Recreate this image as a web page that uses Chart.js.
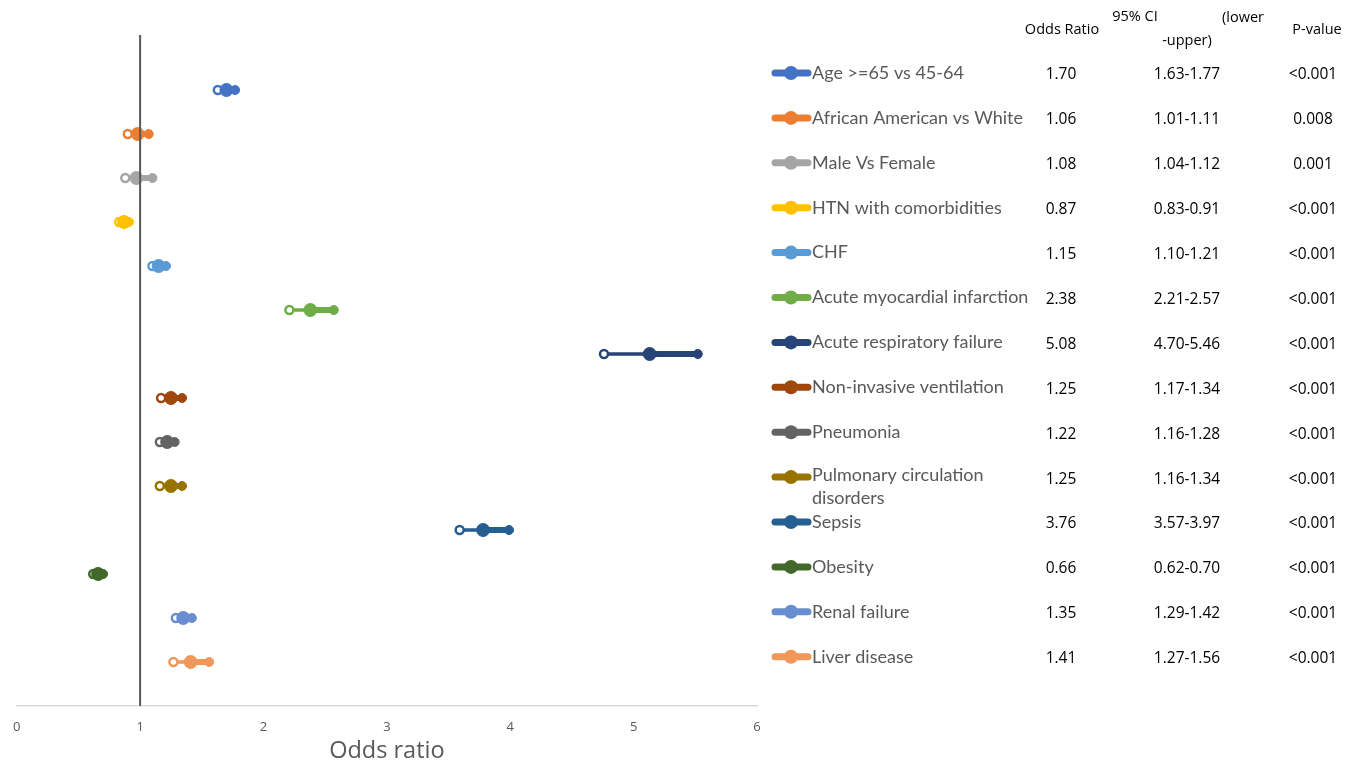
<!DOCTYPE html>
<html>
<head>
<meta charset="utf-8">
<script src="https://cdn.jsdelivr.net/npm/chart.js@4.4.1/dist/chart.umd.min.js"></script>
<style>
  html, body { margin: 0; padding: 0; background: #fff; }
  #wrap { width: 1354px; height: 765px; }
</style>
</head>
<body>
<div id="wrap"><canvas id="forest" width="1354" height="765"></canvas></div>
<script>
// rows, top to bottom
const labels = [
  'Age >=65 vs 45-64', 'African American vs White', 'Male Vs Female', 'HTN with comorbidities',
  'CHF', 'Acute myocardial infarction', 'Acute respiratory failure', 'Non-invasive ventilation',
  'Pneumonia', 'Pulmonary circulation disorders', 'Sepsis', 'Obesity', 'Renal failure', 'Liver disease'
];
// where the marks sit on the plot
const plotOR    = [1.70, 0.98, 0.97, 0.87, 1.15, 2.38, 5.13, 1.25, 1.22, 1.25, 3.78, 0.66, 1.35, 1.41];
const plotLower = [1.63, 0.90, 0.88, 0.83, 1.10, 2.21, 4.76, 1.17, 1.16, 1.16, 3.59, 0.62, 1.29, 1.27];
const plotUpper = [1.77, 1.07, 1.10, 0.91, 1.21, 2.57, 5.52, 1.34, 1.28, 1.34, 3.99, 0.70, 1.42, 1.56];
// table text on the right
const orText = ['1.70', '1.06', '1.08', '0.87', '1.15', '2.38', '5.08', '1.25', '1.22', '1.25', '3.76', '0.66', '1.35', '1.41'];
const ciText = ['1.63-1.77', '1.01-1.11', '1.04-1.12', '0.83-0.91', '1.10-1.21', '2.21-2.57', '4.70-5.46',
  '1.17-1.34', '1.16-1.28', '1.16-1.34', '3.57-3.97', '0.62-0.70', '1.29-1.42', '1.27-1.56'];
const pText = ['<0.001', '0.008', '0.001', '<0.001', '<0.001', '<0.001', '<0.001',
  '<0.001', '<0.001', '<0.001', '<0.001', '<0.001', '<0.001', '<0.001'];
const colors = ['#4472C4', '#ED7D31', '#A5A5A5', '#FFC000', '#5B9BD5', '#70AD47', '#264478',
  '#9E480E', '#636363', '#997300', '#255E91', '#43682B', '#698ED0', '#F1975A'];
const xTicks = [0, 1, 2, 3, 4, 5, 6];

const n = labels.length;
const datasets = labels.map((lab, i) => {
  const y = n - i;
  return {
    label: lab,
    data: [{ x: plotLower[i], y: y }, { x: plotOR[i], y: y }, { x: plotUpper[i], y: y }],
    borderColor: colors[i],
    backgroundColor: colors[i],
    borderWidth: 4,
    borderCapStyle: 'round',
    segment: { borderWidth: ctx => ctx.p0DataIndex === 0 ? 3.5 : 6 },
    pointRadius: [4, 6.5, 4.5],
    pointBackgroundColor: ['#ffffff', colors[i], colors[i]],
    pointBorderColor: colors[i],
    pointBorderWidth: [2.5, 1, 1],
    showLine: true
  };
});
// reference line at OR = 1
datasets.unshift({
  label: 'ref',
  data: [{ x: 1, y: 0 }, { x: 1, y: 15.25 }],
  borderColor: '#595959',
  borderWidth: 2,
  pointRadius: 0,
  showLine: true
});

const tablePlugin = {
  id: 'tablePlugin',
  afterDraw(chart) {
    const ctx = chart.ctx;
    ctx.save();
    ctx.textBaseline = 'middle';
    // headers
    ctx.fillStyle = '#000';
    ctx.font = '14.5px "Open Sans"';
    ctx.textAlign = 'center';
    ctx.fillText('Odds Ratio', 1062, 30);
    ctx.fillText('95% CI', 1135, 17);
    ctx.fillText('(lower', 1243, 18);
    ctx.fillText('-upper)', 1187, 41);
    ctx.fillText('P-value', 1317, 30);

    labels.forEach((lab, i) => {
      const y = 73 + 44.9 * i;
      // legend symbol
      ctx.strokeStyle = colors[i];
      ctx.lineWidth = 7;
      ctx.lineCap = 'round';
      ctx.beginPath();
      ctx.moveTo(775, y);
      ctx.lineTo(808, y);
      ctx.stroke();
      ctx.fillStyle = colors[i];
      ctx.beginPath();
      ctx.arc(791, y, 7, 0, Math.PI * 2);
      ctx.fill();
      // legend text
      ctx.fillStyle = '#595959';
      ctx.font = '18px Lato';
      ctx.textAlign = 'left';
      if (lab === 'Pulmonary circulation disorders') {
        ctx.fillText('Pulmonary circulation', 812, y - 2);
        ctx.fillText('disorders', 812, y + 21);
      } else {
        ctx.fillText(lab, 812, y);
      }
      // table values
      ctx.fillStyle = '#000';
      ctx.font = '15.5px "Open Sans"';
      ctx.textAlign = 'center';
      ctx.fillText(orText[i], 1061, y + 2);
      ctx.fillText(ciText[i], 1187, y + 2);
      ctx.fillText(pText[i], 1313, y + 2);
    });
    ctx.restore();
  }
};

new Chart(document.getElementById('forest').getContext('2d'), {
  type: 'scatter',
  data: { datasets: datasets },
  options: {
    responsive: false,
    animation: false,
    layout: { padding: { left: 15, right: 597, top: 35, bottom: 0 } },
    plugins: {
      legend: { display: false },
      tooltip: { enabled: false }
    },
    scales: {
      x: {
        type: 'linear',
        min: 0,
        max: 6,
        afterBuildTicks: axis => { axis.ticks = xTicks.map(v => ({ value: v })); },
        afterFit: axis => { axis.height = 59; },
        grid: { display: false, drawTicks: false },
        border: { display: true, color: '#d9d9d9', width: 1.5 },
        ticks: { color: '#595959', font: { family: 'Open Sans', size: 13 }, padding: 13 },
        title: {
          display: true,
          text: 'Odds ratio',
          color: '#595959',
          font: { family: 'Open Sans', size: 23.5 },
          padding: { top: 0, bottom: 0 }
        }
      },
      y: {
        type: 'linear',
        display: false,
        min: 0,
        max: 15.25
      }
    }
  },
  plugins: [tablePlugin]
});
</script>
</body>
</html>
